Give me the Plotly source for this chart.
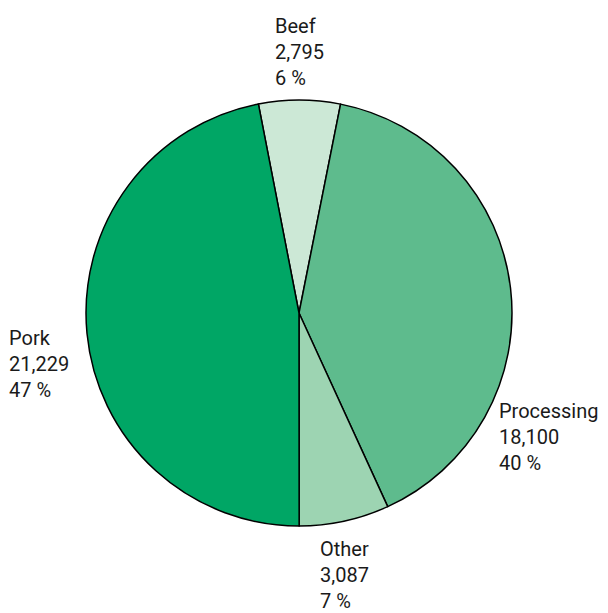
import plotly.graph_objects as go

categories = ["Beef", "Processing", "Other", "Pork"]
values = [2795, 18100, 3087, 21229]
colors = ["#CCE8D6", "#5EBB8D", "#9DD4B2", "#00A665"]

# label anchor positions (paper coords) and anchoring
label_pos = {
    "Beef": (0.485, 0.928, "center"),
    "Processing": (0.815, 0.291, "left"),
    "Other": (0.517, 0.063, "left"),
    "Pork": (-0.002, 0.412, "left"),
}

total = sum(values)
pct = [round(v / total * 100) for v in values]

fig = go.Figure(go.Pie(
    labels=categories,
    values=values,
    sort=False,
    direction="clockwise",
    rotation=-11,
    marker=dict(colors=colors, line=dict(color="#000000", width=1.5)),
    textinfo="none",
    hoverinfo="label+value+percent",
    showlegend=False,
    domain=dict(x=[0.13, 0.84], y=[0.1438, 0.8479]),
))

annotations = []
for c, v, p in zip(categories, values, pct):
    x, y, xa = label_pos[c]
    annotations.append(dict(
        x=x, y=y, xref="paper", yref="paper",
        xanchor=xa, yanchor="middle", align="left",
        text=f"{c}<br>{v:,}<br>{p} %",
        showarrow=False,
        font=dict(family="Roboto", size=20, color="#1a1a1a"),
    ))

fig.update_layout(
    width=600, height=605,
    margin=dict(l=0, r=0, t=0, b=0),
    paper_bgcolor="white", plot_bgcolor="white",
    annotations=annotations,
)

fig.write_html("out.html")
